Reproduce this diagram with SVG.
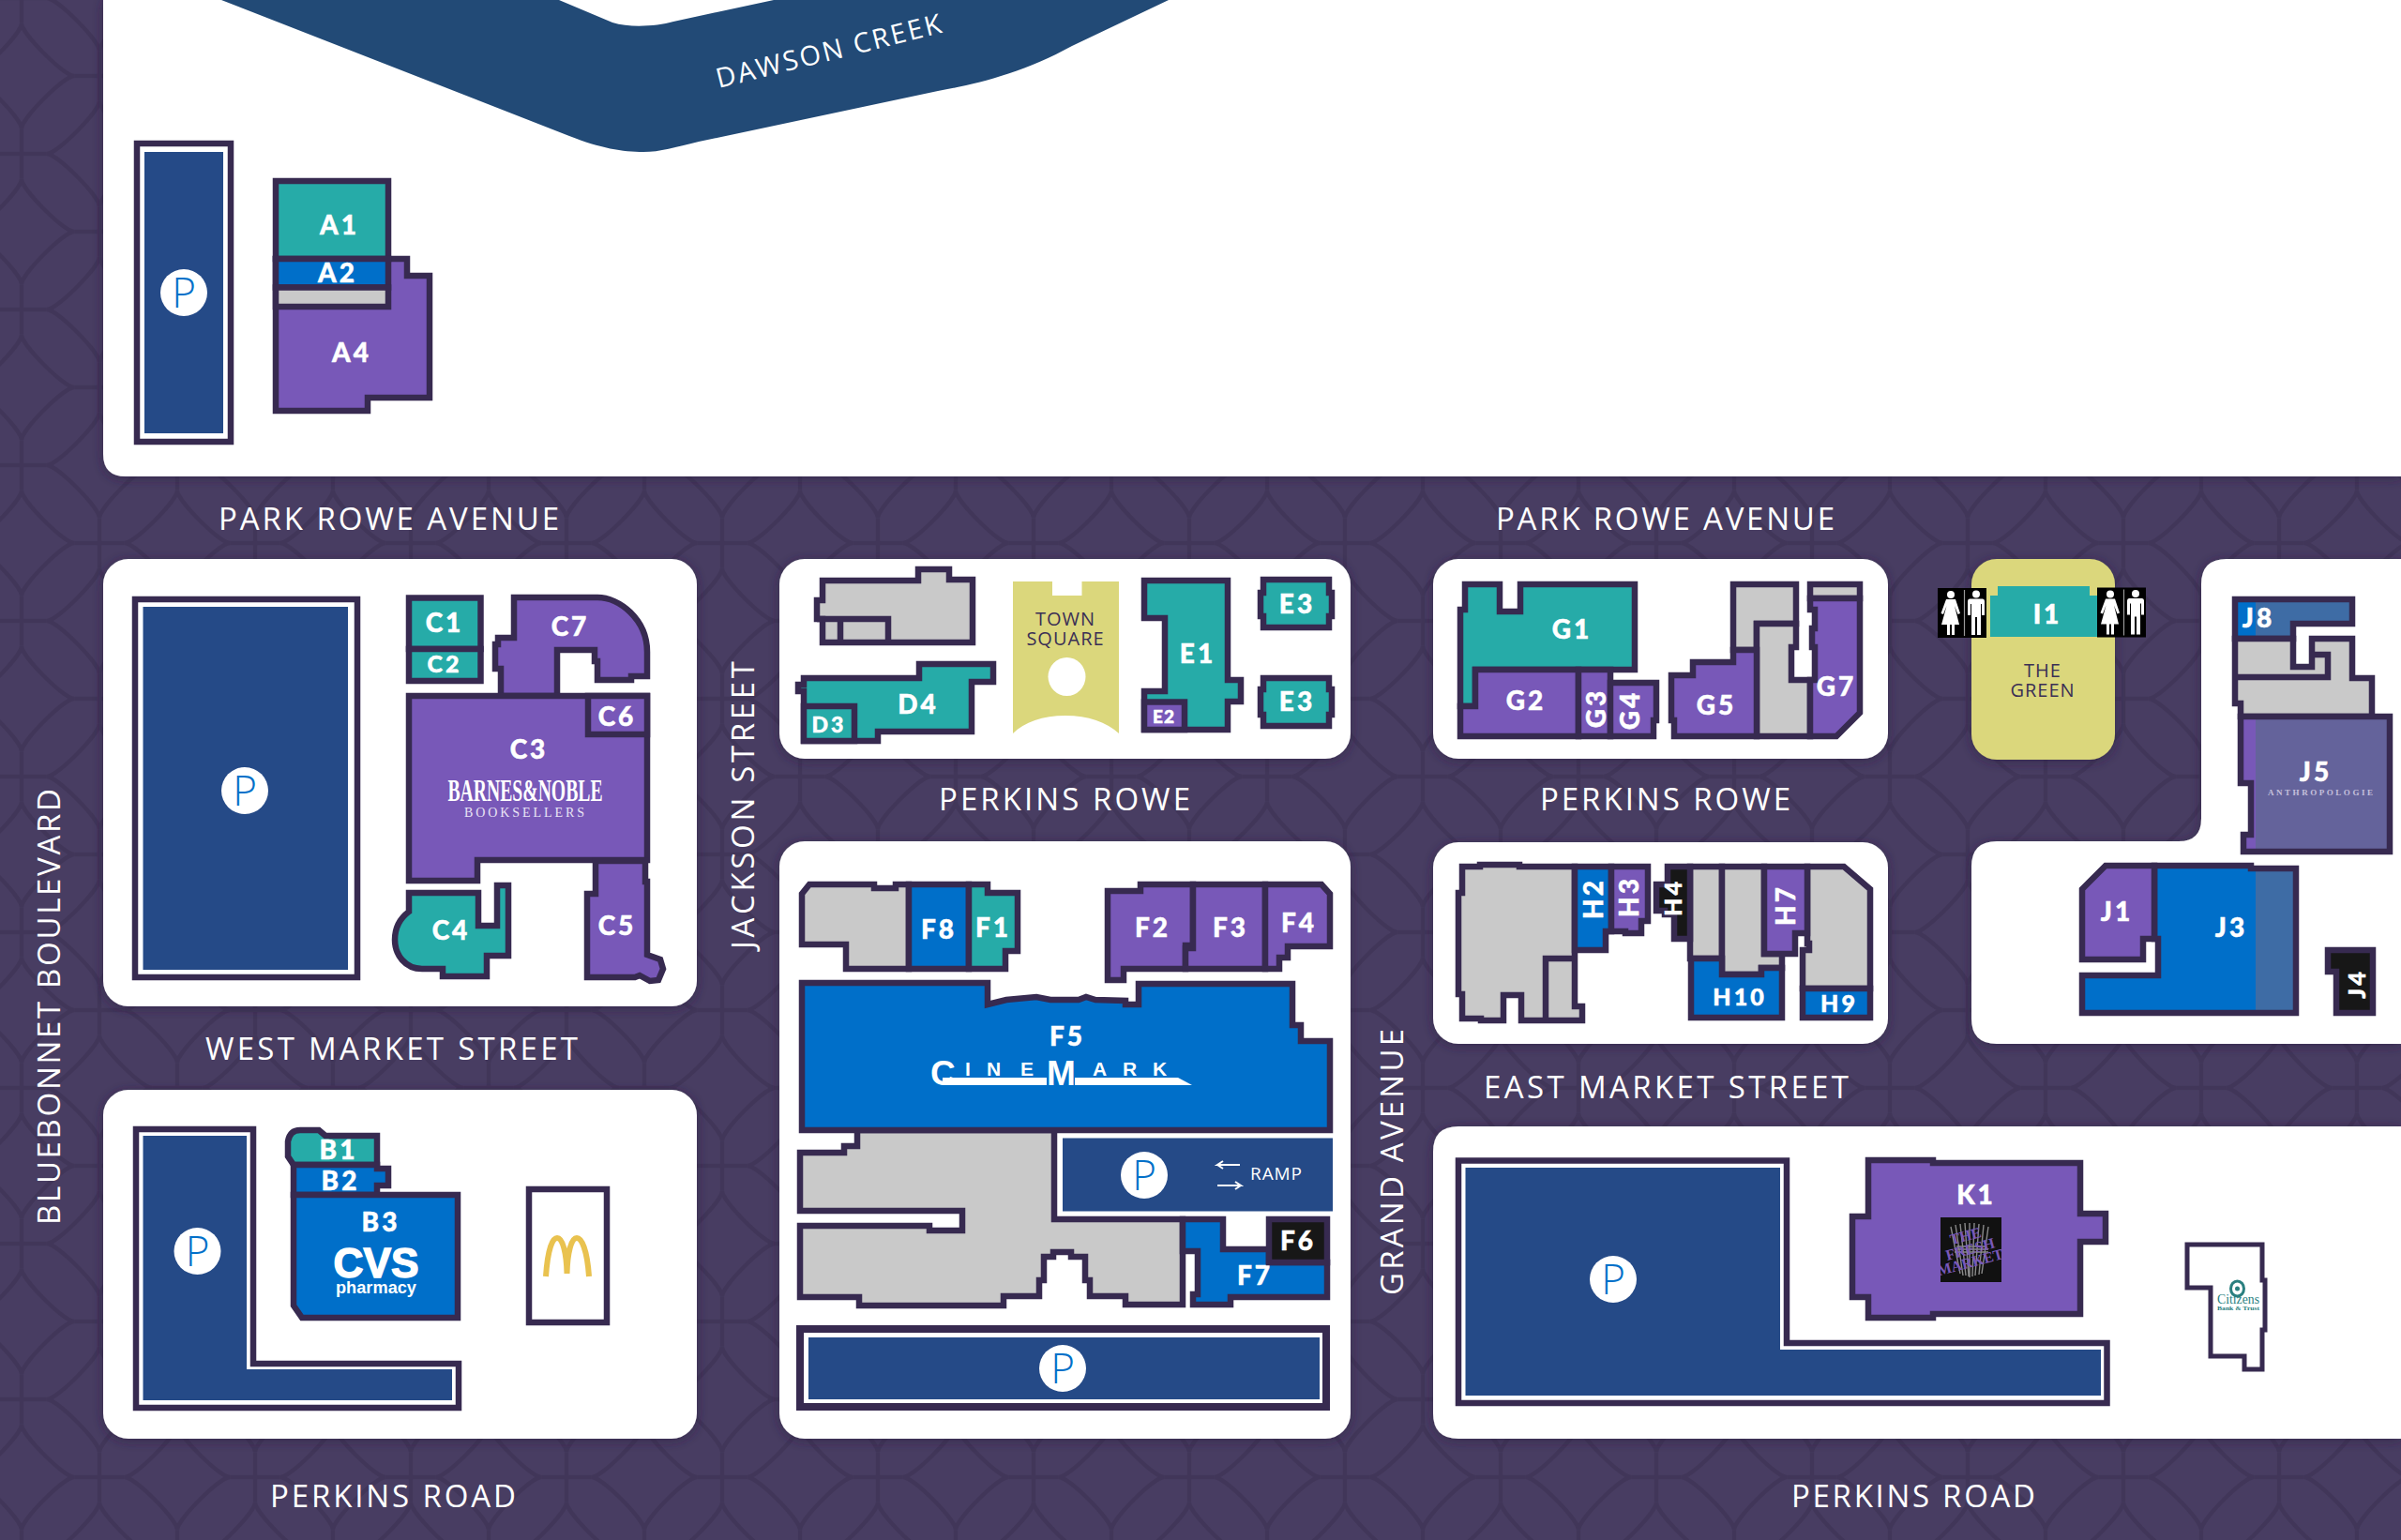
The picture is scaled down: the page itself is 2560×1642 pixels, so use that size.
<svg xmlns="http://www.w3.org/2000/svg" xmlns:xlink="http://www.w3.org/1999/xlink" width="2560" height="1642" viewBox="0 0 2560 1642">
<style>
.o{stroke:#372a50;stroke-width:6.5;stroke-linejoin:miter}
.t{fill:#26aba8}.p{fill:#7858b8}.b{fill:#006fc9}.g{fill:#c9c9c9}.k{fill:#171717}.n{fill:#254a87}.w{fill:#fff}
.ln{fill:none}
.lb{font-family:Lato,"Open Sans",sans-serif;font-weight:900;font-size:28px;fill:#fff;stroke:#fff;stroke-width:.5px;text-anchor:middle;letter-spacing:3px}
.st{font-family:"Open Sans","Liberation Sans",sans-serif;font-size:33px;fill:#fff}
.dk{font-family:"Open Sans","Liberation Sans",sans-serif;font-size:20px;fill:#3a2f55;text-anchor:middle}
.pk{font-family:"Open Sans","Liberation Sans",sans-serif;font-weight:300;font-size:44px;fill:#0070c9;text-anchor:middle}
.panel{fill:#fff;filter:url(#sh)}
</style>
<defs>
<pattern id="bg" width="167" height="167" patternUnits="userSpaceOnUse" patternTransform="translate(23 496) scale(.994)">
<rect width="167" height="167" fill="#483d62"/>
<g fill="none" stroke="#413659" stroke-width="4.500">
<path d="M83.5 -56.5C83.5 -45.5 129 0 140 0C129 0 83.5 45.5 83.5 56.5C83.5 45.5 38 0 27 0C38 0 83.5 -45.5 83.5 -56.5Z"/>
<path d="M83.5 110.5C83.5 121.5 129 167 140 167C129 167 83.5 212.5 83.5 223.5C83.5 212.5 38 167 27 167C38 167 83.5 121.5 83.5 110.5Z"/>
<path d="M0 27C0 38 45.500 83.500 56.500 83.500C45.500 83.500 0 129 0 140C0 129 -45.500 83.500 -56.500 83.500C-45.500 83.500 0 38 0 27Z"/>
<path d="M167 27C167 38 212.500 83.500 223.500 83.500C212.500 83.500 167 129 167 140C167 129 121.500 83.500 110.500 83.500C121.500 83.500 167 38 167 27Z"/>
<path d="M0 0H27M0 0V27M140 0H167V27M0 140V167H27M140 167H167V140M56.500 83.500H110.500M83.500 56.500V110.500"/>
</g>
</pattern>
<filter id="sh" x="-10%" y="-10%" width="120%" height="120%"><feDropShadow dx="0" dy="2" stdDeviation="6" flood-color="#2a1f42" flood-opacity=".65"/></filter>
<linearGradient id="jb" gradientUnits="userSpaceOnUse" x1="0" y1="0" x2="2560" y2="0"><stop offset=".93945" stop-color="#006fc9"/><stop offset=".93945" stop-color="#3e6ca5"/></linearGradient>
<linearGradient id="jp" gradientUnits="userSpaceOnUse" x1="0" y1="0" x2="2560" y2="0"><stop offset=".93945" stop-color="#7858b8"/><stop offset=".93945" stop-color="#64639b"/></linearGradient>
<g id="wc">
<rect width="52" height="53" fill="#000"/>
<line x1="28.500" y1="2" x2="28.500" y2="51" stroke="#999" stroke-width="1.200"/>
<circle cx="14" cy="7" r="4" fill="#fff"/>
<path d="M9 12H19L24 27L21.500 28L18 19L23 39H18V50H15V39H13V50H10V39H4L9.500 19L6 28L3.500 27Z" fill="#fff"/>
<circle cx="41" cy="6.500" r="4" fill="#fff"/>
<path d="M34 11.500H48Q50 11.500 50 14V29H47V17H46V50H42V31H40V50H36V17H35V29H32V14Q32 11.500 34 11.500Z" fill="#fff"/>
</g>
</defs>

<rect id="background" width="2560" height="1642" fill="url(#bg)"/>

<g id="panels">
<path class="panel" d="M110 0H2560V508H134Q110 508 110 484Z"/>
<rect class="panel" x="110" y="596" width="633" height="477" rx="27"/>
<rect class="panel" x="110" y="1162" width="633" height="372" rx="27"/>
<rect class="panel" x="831" y="596" width="609" height="213" rx="27"/>
<rect class="panel" x="831" y="897" width="609" height="637" rx="27"/>
<rect class="panel" x="1528" y="596" width="485" height="213" rx="27"/>
<rect class="panel" x="1528" y="898" width="485" height="215" rx="27"/>
<path class="panel" d="M1528 1228Q1528 1201 1555 1201H2560V1534H1555Q1528 1534 1528 1507Z"/>
<path class="panel" d="M2560 596H2374Q2347 596 2347 623V873Q2347 897 2323 897H2129Q2102 897 2102 924V1086Q2102 1113 2129 1113H2560Z"/>
<rect class="panel" x="2102" y="596" width="153" height="214" rx="27" style="fill:#dbd77c"/>
</g>

<g id="creek">
<path d="M236 0L607 145C640 158 664 162 686 162C704 162 720 157 745 151L1000 97C1040 90 1090 78 1143 49L1246 0H825L718 23C700 28 672 30 653 24L596 0Z" fill="#224a76"/>
<text class="st" transform="translate(887 64) rotate(-14)" text-anchor="middle" style="font-size:29px;letter-spacing:2.400px">DAWSON CREEK</text>
</g>

<g id="street-labels">
<text class="st" x="233" y="565" textLength="363">PARK ROWE AVENUE</text>
<text class="st" x="1595" y="565" textLength="361">PARK ROWE AVENUE</text>
<text class="st" x="1001" y="864" textLength="268">PERKINS ROWE</text>
<text class="st" x="1642" y="864" textLength="267">PERKINS ROWE</text>
<text class="st" x="219" y="1130" textLength="397">WEST MARKET STREET</text>
<text class="st" x="1582" y="1171" textLength="389">EAST MARKET STREET</text>
<text class="st" x="288" y="1607" textLength="262">PERKINS ROAD</text>
<text class="st" x="1910" y="1607" textLength="260">PERKINS ROAD</text>
<text class="st" transform="translate(804 1012) rotate(-90)" textLength="307">JACKSON STREET</text>
<text class="st" transform="translate(64 1306) rotate(-90)" textLength="465">BLUEBONNET BOULEVARD</text>
<text class="st" transform="translate(1496 1381) rotate(-90)" textLength="284">GRAND AVENUE</text>
</g>

<g id="parking-A"><rect class="w o" x="146" y="153" width="100" height="318"/><rect class="n" x="154" y="162" width="84" height="300"/><circle class="w" cx="196" cy="312" r="25"/><text class="pk" x="196" y="328">P</text></g>
<g id="A4"><path class="p o" d="M294 276H434V294H458V424H392V438H294Z"/><text class="lb" x="375" y="386">A4</text></g>
<g id="A1"><rect class="t o" x="294" y="193" width="120" height="83"/><text class="lb" x="362" y="250">A1</text></g>
<g id="A2"><rect class="b o" x="294" y="276" width="120" height="30.500"/><text class="lb" x="360" y="301">A2</text></g>
<g id="A3"><rect class="g o" x="294" y="306.500" width="120" height="20.500"/></g>

<g id="parking-C"><rect class="w o" x="144" y="639" width="237" height="403"/><rect class="n" x="152.500" y="647" width="218.500" height="387"/><circle class="w" cx="261" cy="843" r="25"/><text class="pk" x="261" y="859">P</text></g>
<g id="C1"><rect class="t o" x="436" y="637.500" width="76.500" height="54.500"/><text class="lb" x="474" y="674">C1</text></g>
<g id="C2"><rect class="t o" x="436" y="692" width="76.500" height="34"/><text class="lb" x="474" y="717" style="font-size:25px">C2</text></g>
<g id="C7"><path class="p o" d="M548 637H637C660 637 690 660 690 695V721H673V725H637V705H634V693H594V742H534V713H528V687H531V680H548Z"/><text class="lb" x="608" y="678">C7</text></g>
<g id="C3"><path class="p o" d="M436 742H690V917H509V939H436Z"/><text class="lb" x="564" y="809">C3</text>
<text x="477.500" y="854" textLength="165" lengthAdjust="spacingAndGlyphs" style="font-family:'Liberation Serif',serif;font-weight:700;font-size:34px;fill:#fff">BARNES&amp;NOBLE</text>
<text x="495" y="871" textLength="128" style="font-family:'Liberation Serif',serif;font-size:14px;fill:#e9e4f5">BOOKSELLERS</text></g>
<g id="C6"><rect class="p o" x="627" y="742" width="63" height="41"/><text class="lb" x="658" y="774">C6</text></g>
<g id="C5"><path class="p o" d="M635 918H688V940H690V1018L704 1023L707 1033L702 1045L693 1046L682 1040L677 1042H626V953H635Z"/><text class="lb" x="658" y="997">C5</text></g>
<g id="C4"><path class="t o" d="M436 952H510V987H530V944H542V1019H519V1041H472V1033H450C432 1033 421 1018 421 1002C421 988 428 978 436 972Z"/><text class="lb" x="481" y="1002">C4</text></g>

<g id="parking-B"><path class="w o" d="M145 1204H270V1454H489V1501H145Z"/><path class="n" d="M152.500 1211H263V1460H482V1493H152.500Z"/><circle class="w" cx="210.500" cy="1334" r="25"/><text class="pk" x="210.500" y="1350">P</text></g>
<g id="B1"><path class="t o" d="M307 1217Q309 1205 320 1205H340L347 1211H402V1242H313L307 1233Z"/><text class="lb" x="361" y="1236">B1</text></g>
<g id="B2"><path class="b o" d="M313 1242H402V1246H414V1264H402V1274H313Z"/><text class="lb" x="363" y="1269">B2</text></g>
<g id="B3"><path class="b o" d="M313 1274H488V1405H322L313 1392Z"/><text class="lb" x="406" y="1313">B3</text>
<text x="355.600" y="1362" textLength="91" lengthAdjust="spacingAndGlyphs" style="font-family:'Liberation Sans',sans-serif;font-weight:700;font-size:44px;fill:#fff;stroke:#fff;stroke-width:1.500px">CVS</text>
<text x="358" y="1379" textLength="86" lengthAdjust="spacingAndGlyphs" style="font-family:'Liberation Sans',sans-serif;font-weight:700;font-size:18px;fill:#fff">pharmacy</text></g>
<g id="mcdonalds"><rect class="w o" x="564" y="1268" width="83" height="142"/><path d="M582 1361C584 1332 589 1320 594 1320C600 1320 604 1336 604.500 1358C605 1336 609 1320 615 1320C620 1320 626 1332 628 1361" fill="none" stroke="#e9c24f" stroke-width="6"/></g>

<g id="gray-D"><path class="g o" d="M877 619H979V607H1012V618H1037V685H877V660H871V640H877Z"/><path class="ln o" d="M871 660H947V685M896 660V685"/></g>
<g id="D4"><path class="t o" d="M980 708H1059V727H1036V780H936V790H857V737H851V730H857V723H980Z"/><text class="lb" x="979" y="761">D4</text></g>
<g id="D3"><rect class="t o" x="857" y="753" width="54" height="37"/><text class="lb" x="884" y="781" style="font-size:23px">D3</text></g>
<g id="town-square"><path d="M1080 620H1122V635H1153.500V620H1193V782C1180 770 1160 763 1136 763C1112 763 1092 770 1080 782Z" fill="#dbd77c"/><ellipse cx="1137.500" cy="721.500" rx="20" ry="20.500" class="w"/>
<text class="dk" x="1136" y="667" style="letter-spacing:1px">TOWN</text><text class="dk" x="1136" y="688" style="letter-spacing:1px">SQUARE</text></g>
<g id="E1"><path class="t o" d="M1220 619H1309V725H1323V748H1309V778H1220V737H1242V659H1220Z"/><text class="lb" x="1277" y="707">E1</text></g>
<g id="E2"><rect class="p o" x="1220" y="748.500" width="43" height="29.500"/><text class="lb" x="1241" y="771" style="font-size:19px;letter-spacing:1px">E2</text></g>
<g id="E3-north"><path class="t o" d="M1347 618H1417V632H1420V657H1417V669H1347V657H1344V632H1347Z"/><text class="lb" x="1383" y="654">E3</text></g>
<g id="E3-south"><path class="t o" d="M1347 723H1417V735H1420V762H1417V774H1347V762H1344V735H1347Z"/><text class="lb" x="1383" y="758">E3</text></g>

<g id="gray-F-north"><path class="g o" d="M855 953L863 943H932V947H955V943H969V1033H902V1007H855Z"/></g>
<g id="F8"><rect class="b o" x="969" y="943" width="64" height="90"/><text class="lb" x="1001" y="1001">F8</text></g>
<g id="F1"><path class="t o" d="M1033 943H1053V952H1085V1014H1072V1033H1033Z"/><text class="lb" x="1059" y="999">F1</text></g>
<g id="F2"><path class="p o" d="M1181 950H1216V943H1272V1008H1264V1033H1198V1045H1181Z"/><text class="lb" x="1229" y="999">F2</text></g>
<g id="F3"><path class="p o" d="M1272 943H1349V1033H1264V1011H1272Z"/><text class="lb" x="1312" y="999">F3</text></g>
<g id="F4"><path class="p o" d="M1349 943H1409L1418 953V1009H1373V1021H1364V1033H1349Z"/><text class="lb" x="1385" y="994">F4</text></g>
<g id="gray-F-south"><path class="g o" d="M914 1205V1222H900V1229H853V1291H1026V1312H991V1307H853V1383H916V1392H1070V1382H1108V1365H1113V1340H1123V1335H1142V1340H1157V1365H1162V1382H1200V1391H1261V1300H1124V1205Z"/></g>
<g id="F5"><path class="b o" d="M855 1048H1053V1071L1073 1066L1105 1063L1120 1066H1150L1158 1063L1168 1066L1200 1067V1071H1214V1049H1378V1093H1387V1110H1418V1205H855Z"/><text class="lb" x="1138" y="1115">F5</text>
<path class="w" d="M1005 1149H1116V1157H1005ZM1146 1149H1256L1271 1157H1146Z"/>
<text style="font-family:'Liberation Sans',sans-serif;font-weight:700;font-size:21px;fill:#fff"><tspan x="992" y="1157" style="font-size:37px">C</tspan><tspan x="1029 1052 1088" y="1147">INE</tspan><tspan x="1116" y="1157" style="font-size:37px">M</tspan><tspan x="1165 1197 1229" y="1147">ARK</tspan></text></g>
<g id="parking-ramp"><rect class="n" x="1133" y="1213.500" width="288" height="78"/><circle class="w" cx="1220" cy="1253" r="25"/><text class="pk" x="1220" y="1269">P</text>
<path d="M1322 1242H1298L1304 1238M1298 1242L1304 1246M1298 1264H1323L1317 1260M1323 1264L1317 1268" fill="none" stroke="#fff" stroke-width="2"/>
<text x="1333" y="1258" textLength="55" style="font-family:'Open Sans',sans-serif;font-size:19px;fill:#fff">RAMP</text></g>
<g id="F7"><path class="b o" d="M1261 1300H1304V1332H1353V1346H1415V1383H1312V1391H1272V1380H1277V1334H1261Z"/><text class="lb" x="1338" y="1370">F7</text></g>
<g id="F6"><rect class="k o" x="1353" y="1300" width="62" height="46"/><text class="lb" x="1384" y="1333">F6</text></g>
<g id="parking-F"><rect class="w" x="853" y="1417" width="561" height="83" stroke="#372a50" stroke-width="8"/><rect class="n" x="862" y="1426" width="545" height="66"/><circle class="w" cx="1133" cy="1459" r="25"/><text class="pk" x="1133" y="1475">P</text></g>

<g id="G1"><path class="t o" d="M1562 623H1599V652H1621V623H1743V714H1573V753H1557V650H1562Z"/><text class="lb" x="1676" y="681">G1</text></g>
<g id="G2"><path class="p o" d="M1573 714H1683V785H1557V753H1573Z"/><text class="lb" x="1627" y="757">G2</text></g>
<g id="G3"><rect class="p o" x="1683" y="714" width="34" height="71"/><text class="lb" transform="translate(1702 755) rotate(-90)" y="10">G3</text></g>
<g id="G4"><path class="p o" d="M1717 728H1766V768H1763V785H1717Z"/><text class="lb" transform="translate(1738 757) rotate(-90)" y="10">G4</text></g>
<g id="gray-G"><path class="g o" d="M1848 623H1915V665H1873V693H1848Z"/><path class="g o" d="M1873 665H1915V690H1910V725H1930V785H1873Z"/><rect class="g o" x="1930" y="623" width="53" height="15"/></g>
<g id="G5"><path class="p o" d="M1848 693H1873V785H1785V768H1782V720H1805V706H1848Z"/><text class="lb" x="1830" y="762">G5</text></g>
<g id="G7"><path class="p o" d="M1930 638H1983V760L1958 785H1930V725H1935V690H1932V670H1935V650H1930Z"/><text class="lb" x="1958" y="742">G7</text></g>

<g id="gray-H"><path class="g o" d="M1559 924H1578V922H1620V924H1679V1073H1687V1088H1622V1061H1603V1088H1579V1086H1559V1060H1555V952H1559Z"/><path class="ln o" d="M1679 1022H1648V1088"/><rect class="g o" x="1802" y="924" width="34" height="98"/><path class="g o" d="M1836 924H1881V1017H1900V1032H1878V1039H1836Z"/><path class="g o" d="M1927 924H1966L1994 948V1054H1922V1013H1929V1006H1927Z"/></g>
<g id="H2"><path class="b o" d="M1679 924H1718V993H1712V1013H1679Z"/><text class="lb" transform="translate(1699 958) rotate(-90)" y="10">H2</text></g>
<g id="H3"><path class="p o" d="M1718 924H1757V982H1750V995H1733V993H1718Z"/><text class="lb" transform="translate(1737 956) rotate(-90)" y="10">H3</text></g>
<g id="H4"><path class="k o" d="M1778 924H1802V1001H1785V975H1775V971H1766V943H1778Z"/><text class="lb" transform="translate(1784 957) rotate(-90)" y="9" style="font-size:25px">H4</text></g>
<g id="H7"><path class="p o" d="M1881 924H1927V995H1914V1017H1881Z"/><text class="lb" transform="translate(1904 965) rotate(-90)" y="10">H7</text></g>
<g id="H10"><path class="b o" d="M1803 1022H1836V1039H1878V1032H1900V1085H1803Z"/><text class="lb" x="1855" y="1072" style="font-size:25px">H10</text></g>
<g id="H9"><rect class="b o" x="1922" y="1054" width="72" height="31"/><text class="lb" x="1961" y="1079" style="font-size:25px">H9</text></g>

<g id="I1"><path class="t" d="M2122 635H2130V625H2228V635H2237V679H2122Z"/><text class="lb" x="2183" y="665">I1</text>
<use href="#wc" x="2066" y="627"/><use href="#wc" x="2236" y="626.500"/></g>
<g id="the-green"><text class="dk" x="2178" y="721.500" style="letter-spacing:1px">THE</text><text class="dk" x="2178" y="743" style="letter-spacing:1px">GREEN</text></g>

<g id="J8"><path class="o" fill="url(#jb)" d="M2383 639H2508V665H2445V681H2383Z"/><text class="lb" x="2408" y="669">J8</text></g>
<g id="gray-J"><path class="g o" d="M2383 681H2445V711H2465V681H2508V723H2529V764H2389V750H2383Z"/><path class="ln o" d="M2383 722H2482V698H2465"/></g>
<g id="J5"><path class="o" fill="url(#jp)" d="M2389 764H2548V908H2392V890H2400V835H2389Z"/><text class="lb" x="2469" y="833">J5</text><text x="2418" y="848" textLength="112" style="font-family:'Liberation Serif',serif;font-weight:700;font-size:9px;fill:#c5c0dc">ANTHROPOLOGIE</text></g>
<g id="J3"><path class="o" fill="url(#jb)" d="M2297 923H2400V926H2448V1080H2220V1040H2301V1001H2297Z"/><text class="lb" x="2379" y="999">J3</text></g>
<g id="J1"><path class="p o" d="M2220 948L2245 923H2297V1001H2285V1023H2220Z"/><text class="lb" x="2257" y="982">J1</text></g>
<g id="J4"><path class="k o" d="M2482 1013H2530V1080H2491V1036H2482Z"/><text class="lb" transform="translate(2513 1049) rotate(-90)" y="9" style="font-size:25px">J4</text></g>

<g id="parking-K"><path class="w o" d="M1555 1237.500H1905V1432H2246.500V1496H1555Z"/><path class="n" d="M1562.500 1245H1898V1439H2240V1488H1562.500Z"/><circle class="w" cx="1720" cy="1364" r="25"/><text class="pk" x="1720" y="1380">P</text></g>
<g id="K1"><path class="p o" d="M1992 1237H2061V1240H2218V1294H2245V1324H2218V1401H2061V1405H1992V1383H1975V1297H1992Z"/><text class="lb" x="2107" y="1284">K1</text>
<rect x="2069" y="1298" width="65" height="69" fill="#111"/>
<path d="M2080 1308L2090 1358M2085 1306L2093 1360M2090 1305L2096 1360M2095 1304L2099 1361M2100 1304V1362M2105 1304L2103 1361M2110 1305L2106 1360M2115 1306L2110 1359M2120 1308L2113 1358M2084 1332H2120M2084 1335H2120M2086 1329H2118" stroke="#8a8a8a" stroke-width="1.400" fill="none"/>
<g style="font-family:'Liberation Serif',serif;font-weight:700;font-size:16px;fill:#7858b8;text-anchor:middle"><text transform="translate(2097 1323) rotate(-15)">THE</text><text transform="translate(2102 1337) rotate(-15)">FRESH</text><text transform="translate(2102 1351) rotate(-15)">MARKET</text></g></g>
<g id="citizens"><path class="w" stroke="#372a50" stroke-width="5" d="M2332 1327H2412V1365H2415V1418H2412V1460H2393V1446H2357V1373H2332Z"/>
<ellipse cx="2385.500" cy="1374" rx="7" ry="8" fill="none" stroke="#2a7f7f" stroke-width="3"/><circle cx="2385.500" cy="1374" r="2.500" fill="#2a7f7f"/>
<text x="2364" y="1390" textLength="45" lengthAdjust="spacingAndGlyphs" style="font-family:'Liberation Serif',serif;font-size:15px;fill:#2a7f7f">Citizens</text>
<text x="2364" y="1397" textLength="45" lengthAdjust="spacingAndGlyphs" style="font-family:'Liberation Serif',serif;font-weight:700;font-size:7px;fill:#2a7f7f">Bank &amp; Trust</text></g>
</svg>
